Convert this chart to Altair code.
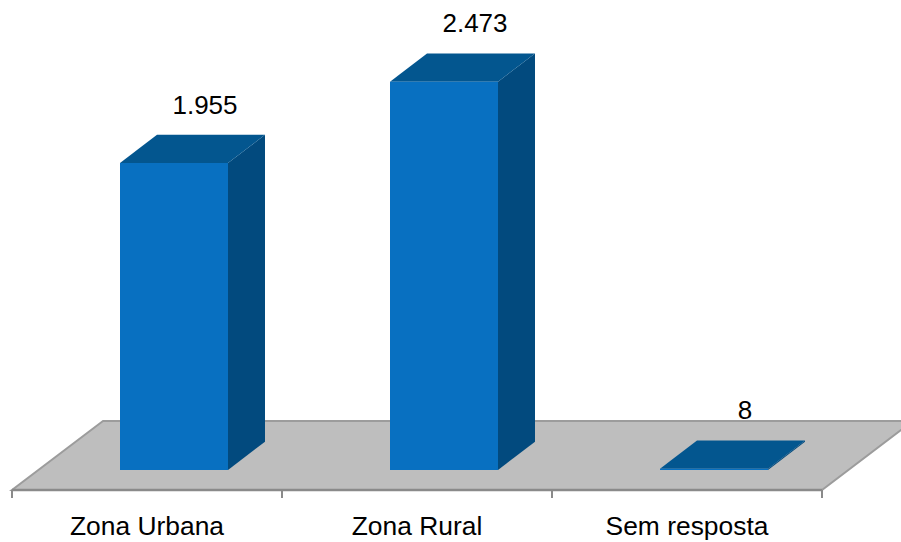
import altair as alt
import pandas as pd

# Chart data
categories = ["Zona Urbana", "Zona Rural", "Sem resposta"]
values = [1955, 2473, 8]
value_labels = ["1.955", "2.473", "8"]

# Drawing geometry: one category band is 270 px wide, one unit of value is 0.157 px tall.
W, H = 901, 542
BAND_PX = 270.0
UNIT_PX = 0.157
ORIGIN_X_PX = 12.0     # left end of the category axis
BASE_Y_PX = 470.0      # where value 0 sits on the front of the bars


def ux(px):
    return px / BAND_PX


def uy(px):
    return px / UNIT_PX


X_DOMAIN = [ux(-ORIGIN_X_PX), ux(W - ORIGIN_X_PX)]
Y_DOMAIN = [uy(BASE_Y_PX - H), uy(BASE_Y_PX)]

BAR_LEFT, BAR_RIGHT = 0.4, 0.8          # bar front face inside its band
DEPTH_X, DEPTH_Y = ux(37), uy(28.3)     # 3D depth of a bar
FLOOR_FRONT = uy(-20)                   # floor front edge, below the bar base
FLOOR_DX, FLOOR_DY = ux(91), uy(69)     # 3D depth of the floor

FRONT = "#0870C1"
TOP = "#03568F"
SIDE = "#024A7E"
FONT = "Liberation Sans"

xs = alt.Scale(domain=X_DOMAIN, nice=False, zero=False)
ys = alt.Scale(domain=Y_DOMAIN, nice=False, zero=False)

n = len(categories)

# Tables built from the arrays above
bars = pd.DataFrame({
    "category": categories,
    "i": list(range(n)),
    "v": values,
    "label": value_labels,
})
bars["x0"] = bars["i"] + BAR_LEFT
bars["x1"] = bars["i"] + BAR_RIGHT

top_rows, side_rows = [], []
for name, v, x0, x1 in zip(bars["category"], bars["v"], bars["x0"], bars["x1"]):
    top_rows.append({"category": name, "y": v, "xa": x0, "xb": x1})
    top_rows.append({"category": name, "y": v + DEPTH_Y, "xa": x0 + DEPTH_X, "xb": x1 + DEPTH_X})
    side_rows.append({"category": name, "x": x1, "ya": 0.0, "yb": v})
    side_rows.append({"category": name, "x": x1 + DEPTH_X, "ya": DEPTH_Y, "yb": v + DEPTH_Y})
top_df = pd.DataFrame(top_rows)
side_df = pd.DataFrame(side_rows)

floor_df = pd.DataFrame({
    "y": [FLOOR_FRONT, FLOOR_FRONT + FLOOR_DY],
    "xa": [0.0, FLOOR_DX],
    "xb": [float(n), n + FLOOR_DX],
})

ticks_df = pd.DataFrame({"x": [float(k) for k in range(n + 1)]})
ticks_df["ya"] = FLOOR_FRONT
ticks_df["yb"] = FLOOR_FRONT - uy(8)

axis_df = pd.DataFrame({"xa": [0.0], "xb": [float(n)], "y": [FLOOR_FRONT]})

cat_df = pd.DataFrame({"category": categories, "x": [k + 0.5 for k in range(n)]})
cat_df["y"] = uy(BASE_Y_PX - 535)

lab_df = bars.copy()
lab_df["lx"] = lab_df["x0"] + (BAR_RIGHT - BAR_LEFT) / 2 + ux(31)
lab_df["ly"] = lab_df["v"] + DEPTH_Y + uy(21)

# Layers
floor = alt.Chart(floor_df).mark_area(
    orient="horizontal", color="#BEBEBE", stroke="#9C9C9C", strokeWidth=2, clip=True
).encode(
    y=alt.Y("y:Q", scale=ys, axis=None),
    x=alt.X("xa:Q", scale=xs, axis=None),
    x2="xb:Q",
)

axis_line = alt.Chart(axis_df).mark_rule(color="#8A8A8A", strokeWidth=2.5).encode(
    x=alt.X("xa:Q", scale=xs, axis=None), x2="xb:Q", y=alt.Y("y:Q", scale=ys, axis=None)
)

ticks = alt.Chart(ticks_df).mark_rule(color="#8A8A8A", strokeWidth=2).encode(
    x=alt.X("x:Q", scale=xs, axis=None), y=alt.Y("ya:Q", scale=ys, axis=None), y2="yb:Q"
)

side = alt.Chart(side_df).mark_area(color=SIDE).encode(
    x=alt.X("x:Q", scale=xs, axis=None),
    y=alt.Y("ya:Q", scale=ys, axis=None),
    y2="yb:Q",
    detail="category:N",
)

top = alt.Chart(top_df).mark_area(orient="horizontal", color=TOP).encode(
    y=alt.Y("y:Q", scale=ys, axis=None),
    x=alt.X("xa:Q", scale=xs, axis=None),
    x2="xb:Q",
    detail="category:N",
)

front = alt.Chart(bars).mark_rect(color=FRONT).encode(
    x=alt.X("x0:Q", scale=xs, axis=None),
    x2="x1:Q",
    y=alt.Y("v:Q", scale=ys, axis=None),
    y2=alt.datum(0),
)

cat_text = alt.Chart(cat_df).mark_text(
    font=FONT, fontSize=26.4, color="#000000", baseline="alphabetic", align="center"
).encode(
    x=alt.X("x:Q", scale=xs, axis=None), y=alt.Y("y:Q", scale=ys, axis=None), text="category:N"
)

val_text = alt.Chart(lab_df).mark_text(
    font=FONT, fontSize=26, color="#000000", baseline="alphabetic", align="center"
).encode(
    x=alt.X("lx:Q", scale=xs, axis=None), y=alt.Y("ly:Q", scale=ys, axis=None), text="label:N"
)

chart = alt.layer(
    floor, axis_line, ticks, side, top, front, cat_text, val_text
).properties(
    width=W, height=H, padding=0, autosize=alt.AutoSizeParams(type="none"), background="white"
).configure_view(stroke=None)

chart.save("out.html", embed_options={"renderer": "svg", "actions": False})
